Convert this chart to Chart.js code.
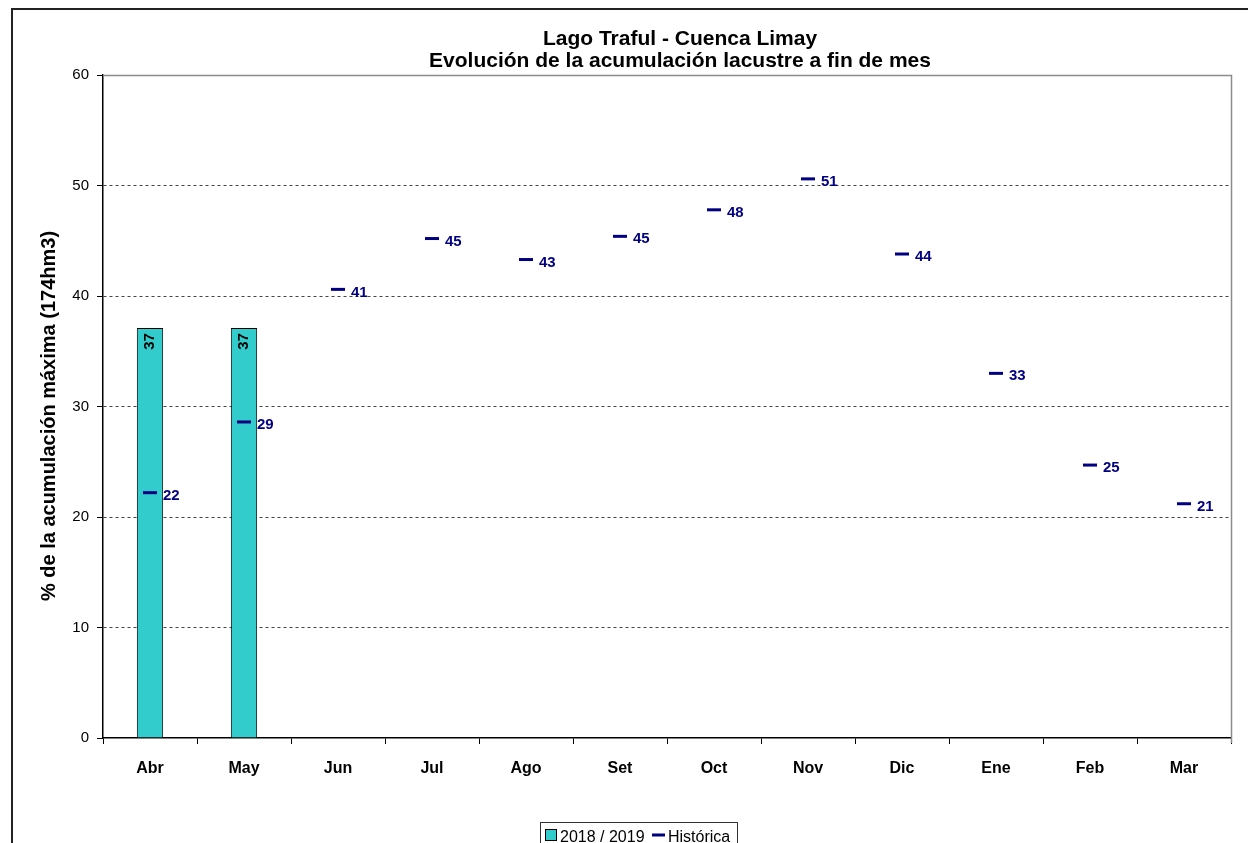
<!DOCTYPE html>
<html>
<head>
<meta charset="utf-8">
<script src="https://cdn.jsdelivr.net/npm/chart.js@4/dist/chart.umd.min.js"></script>
<style>
  body { margin: 0; background: #fff; }
</style>
</head>
<body>
<canvas id="lagoChart" width="1248" height="843"></canvas>
<script>
// meses del año hidrológico
const meses = ["Abr", "May", "Jun", "Jul", "Ago", "Set", "Oct", "Nov", "Dic", "Ene", "Feb", "Mar"];
// % de acumulación máxima, temporada 2018/2019
const temporada = [37.1, 37.1, null, null, null, null, null, null, null, null, null, null];
// promedio histórico a fin de mes
const historica = [22.2, 28.6, 40.6, 45.2, 43.3, 45.4, 47.8, 50.6, 43.8, 33.0, 24.7, 21.2];
const ticksY = [0, 10, 20, 30, 40, 50, 60];

const FUENTE = "'Liberation Sans', Arial, sans-serif";
const AZUL = "#000080";
const TURQUESA = "#33CCCC";

// textos, marco y etiquetas que Chart.js no dibuja por sí solo
const decorado = {
    id: "decorado",
    afterDraw(chart) {
        const { ctx, chartArea: a } = chart;
        ctx.save();

        // marco exterior
        ctx.strokeStyle = "#222";
        ctx.lineWidth = 2;
        ctx.strokeRect(12, 9, 2000, 2000);

        // borde superior y derecho del área de trazado
        ctx.strokeStyle = "#8c8c8c";
        ctx.lineWidth = 1.5;
        ctx.beginPath();
        ctx.moveTo(a.left, a.top + 0.5);
        ctx.lineTo(a.right + 0.5, a.top + 0.5);
        ctx.lineTo(a.right + 0.5, a.bottom + 5);
        ctx.stroke();

        // títulos
        ctx.fillStyle = "#000";
        ctx.textAlign = "center";
        ctx.textBaseline = "middle";
        ctx.font = "bold 21px " + FUENTE;
        ctx.fillText("Lago Traful - Cuenca Limay", 680, 39);
        ctx.fillText("Evolución de la acumulación lacustre a fin de mes", 680, 61);

        // título del eje Y
        ctx.save();
        ctx.translate(49, 416);
        ctx.rotate(-Math.PI / 2);
        ctx.font = "bold 20px " + FUENTE;
        ctx.fillText("% de la acumulación máxima (174hm3)", 0, 0);
        ctx.restore();

        // valores dentro de las barras
        const barras = chart.getDatasetMeta(1);
        ctx.font = "bold 15px " + FUENTE;
        ctx.fillStyle = "#000";
        barras.data.forEach((el, i) => {
            const v = temporada[i];
            if (v == null) return;
            ctx.save();
            ctx.translate(el.x, el.y + 5);
            ctx.rotate(-Math.PI / 2);
            ctx.textAlign = "right";
            ctx.textBaseline = "middle";
            ctx.fillText(Math.round(v), 0, 0);
            ctx.restore();
        });

        // valores de la serie histórica
        const puntos = chart.getDatasetMeta(0);
        ctx.fillStyle = AZUL;
        ctx.textAlign = "left";
        ctx.textBaseline = "middle";
        puntos.data.forEach((el, i) => {
            ctx.fillText(Math.round(historica[i]), el.x + 13, el.y + 3);
        });

        // leyenda
        ctx.strokeStyle = "#333";
        ctx.lineWidth = 1;
        ctx.strokeRect(540.5, 822.5, 197, 40);
        ctx.fillStyle = TURQUESA;
        ctx.fillRect(545, 829, 11, 11);
        ctx.strokeStyle = "#000";
        ctx.strokeRect(545.5, 829.5, 11, 11);
        ctx.fillStyle = "#000";
        ctx.font = "16px " + FUENTE;
        ctx.textBaseline = "alphabetic";
        ctx.fillText("2018 / 2019", 560, 842);
        ctx.strokeStyle = AZUL;
        ctx.lineWidth = 3;
        ctx.beginPath();
        ctx.moveTo(652, 835);
        ctx.lineTo(665, 835);
        ctx.stroke();
        ctx.fillText("Histórica", 668, 842);

        ctx.restore();
    }
};

const ctx = document.getElementById("lagoChart").getContext("2d");

new Chart(ctx, {
    data: {
        labels: meses,
        datasets: [
            {
                type: "line",
                label: "Histórica",
                data: historica,
                showLine: false,
                pointStyle: "line",
                pointRadius: 7,
                pointHoverRadius: 7,
                pointBorderWidth: 3,
                borderColor: AZUL,
                backgroundColor: AZUL,
                order: 0,
            },
            {
                type: "bar",
                label: "2018 / 2019",
                data: temporada,
                backgroundColor: TURQUESA,
                borderColor: "#000",
                borderWidth: 1,
                barPercentage: 0.28,
                categoryPercentage: 1,
                order: 1,
            },
        ],
    },
    options: {
        responsive: false,
        animation: false,
        events: [],
        layout: { padding: { top: 75, right: 17, left: 0, bottom: 0 } },
        plugins: {
            legend: { display: false },
            title: { display: false },
            tooltip: { enabled: false },
        },
        scales: {
            x: {
                offset: true,
                afterFit: (s) => { s.height = 105; },
                grid: {
                    offset: true,
                    drawOnChartArea: false,
                    tickLength: 6,
                    tickColor: "#000",
                },
                border: { display: true, color: "#000", width: 1.5 },
                ticks: {
                    color: "#000",
                    padding: 15,
                    font: { family: FUENTE, size: 16, weight: "bold" },
                },
            },
            y: {
                min: 0,
                max: 60,
                afterFit: (s) => { s.width = 103; },
                afterBuildTicks: (s) => { s.ticks = ticksY.map((v) => ({ value: v })); },
                grid: {
                    color: (c) => (c.tick && (c.tick.value === 0 || c.tick.value === 60)) ? "rgba(0,0,0,0)" : "#444",
                    tickColor: "#000",
                    tickLength: 6,
                    tickBorderDash: [],
                },
                border: { display: true, color: "#000", width: 1.5, dash: [3, 3] },
                ticks: {
                    color: "#000",
                    padding: 8,
                    font: { family: FUENTE, size: 15 },
                },
            },
        },
    },
    plugins: [decorado],
});
</script>
</body>
</html>
